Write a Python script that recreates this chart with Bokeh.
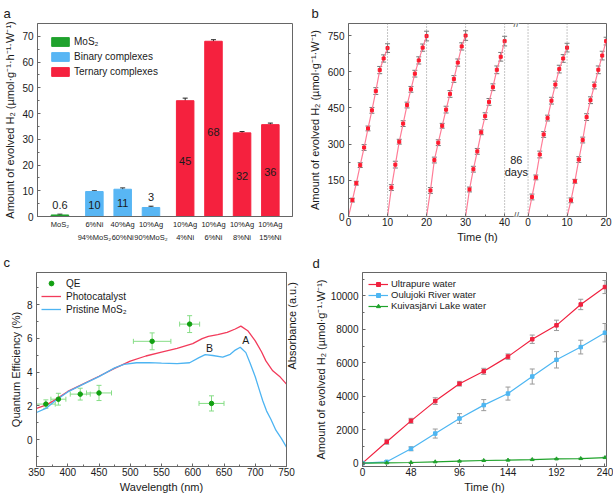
import math
from bokeh.plotting import figure
from bokeh.models import (ColumnDataSource, Whisker, TeeHead, Span, Label,
                          Range1d, FixedTicker, LinearAxis, Legend, LegendItem)
from bokeh.layouts import row, column
from bokeh.embed import file_html
from bokeh.resources import INLINE
from bokeh.core.properties import value

FONT = "Liberation Sans"

# ---------------- panel a data
a_labels = ["MoS₂", "6%Ni\n94%MoS₂", "40%Ag\n60%Ni", "10%Ag\n90%MoS₂",
            "10%Ag\n4%Ni", "10%Ag\n6%Ni", "10%Ag\n8%Ni", "10%Ag\n15%Ni"]
a_groups = ["MoS₂", "Binary complexes", "Binary complexes", "Binary complexes",
            "Ternary complexes", "Ternary complexes", "Ternary complexes", "Ternary complexes"]
a_values = [0.6, 9.7, 10.6, 3.5, 45.0, 68.1, 32.5, 35.7]
a_errors = [0.3, 0.3, 0.5, 0.5, 1.0, 0.6, 0.5, 0.6]
a_texts = ["0.6", "10", "11", "3", "45", "68", "32", "36"]
a_group_names = ["MoS₂", "Binary complexes", "Ternary complexes"]

# ---------------- panel b data (H2 per cycle, hours 1..10)
b_hours = [1, 2, 3, 4, 5, 6, 7, 8, 9, 10]
b_seg1_starts = [0, 10, 20, 30]
b_seg2_starts = [0, 10]
b_cycles = [
    [68, 138, 213, 286, 365, 440, 520, 607, 655, 698],
    [120, 215, 310, 385, 462, 527, 592, 647, 700, 748],
    [108, 234, 306, 376, 443, 508, 570, 638, 705, 750],
    [112, 196, 270, 349, 416, 475, 536, 608, 662, 727],
    [81, 162, 257, 340, 408, 480, 547, 611, 655, 700],
    [67, 146, 236, 317, 412, 482, 543, 608, 667, 727],
]
b_errors = [
    [8, 8, 10, 12, 10, 12, 14, 15, 15, 18],
    [12, 14, 10, 12, 12, 12, 14, 15, 15, 20],
    [12, 12, 12, 10, 14, 14, 14, 15, 15, 20],
    [10, 12, 12, 10, 14, 14, 14, 16, 18, 20],
    [12, 10, 14, 12, 12, 14, 14, 16, 16, 18],
    [10, 8, 12, 12, 14, 14, 14, 16, 18, 16],
]
b_days_text = ["86", "days"]

# ---------------- panel c data
c_wl_photo = [350, 365, 380, 400, 425, 450, 475, 500, 525, 550, 575, 600, 615, 625,
              640, 655, 668, 677, 688, 700, 710, 717, 728, 740, 750]
c_photo = [1.84, 2.04, 2.35, 2.85, 3.3, 3.75, 4.22, 4.65, 4.95, 5.18, 5.4, 5.68, 5.98, 6.12,
           6.22, 6.35, 6.55, 6.72, 6.45, 5.85, 5.2, 4.66, 4.07, 3.7, 3.28]
c_wl_mos2 = [350, 365, 380, 400, 425, 450, 475, 490, 510, 530, 550, 575, 595, 610, 620,
             632, 648, 660, 668, 676, 685, 692, 700, 706, 712, 718, 725, 733, 742, 750]
c_mos2 = [1.6, 1.84, 2.3, 2.82, 3.28, 3.73, 4.25, 4.45, 4.55, 4.56, 4.53, 4.5, 4.55, 4.85, 5.03,
          4.98, 4.88, 5.05, 5.3, 5.47, 5.15, 4.5, 3.72, 3.0, 2.3, 1.7, 1.2, 0.55, 0.05, -0.45]
qe_wl = [365, 385, 420, 450, 535, 595, 630]
qe = [2.1, 2.39, 2.69, 2.76, 5.82, 6.84, 2.14]
qe_wl_err = [15, 12, 16, 20, 30, 16, 20]
qe_err = [0.25, 0.35, 0.35, 0.45, 0.5, 0.5, 0.45]

# ---------------- panel d data
d_time = [0, 24, 48, 72, 96, 120, 144, 168, 192, 216, 240]
d_ultra = [0, 1280, 2530, 3710, 4750, 5490, 6370, 7410, 8240, 9490, 10530]
d_ultra_err = [0, 150, 150, 200, 140, 180, 160, 250, 310, 310, 390]
d_river = [0, 80, 860, 1770, 2670, 3470, 4160, 5180, 6180, 6940, 7800]
d_river_err = [0, 60, 120, 270, 290, 330, 390, 450, 490, 410, 550]
d_lake = [0, 20, 40, 80, 120, 160, 180, 215, 255, 275, 335]
d_lake_err = [0, 15, 15, 15, 20, 20, 20, 25, 25, 25, 30]

AXC = "#666666"
TXT = "#1a1a1a"


def style_axis(ax):
    ax.axis_line_color = AXC
    ax.major_tick_in = 3
    ax.major_tick_out = 0
    ax.minor_tick_in = 2
    ax.minor_tick_out = 0
    ax.major_tick_line_color = AXC
    ax.minor_tick_line_color = AXC
    ax.major_label_text_font = FONT
    ax.major_label_text_font_size = "10px"
    ax.major_label_text_color = TXT
    ax.axis_label_text_font = FONT
    ax.axis_label_text_font_size = "11px"
    ax.axis_label_text_font_style = "normal"
    ax.axis_label_text_color = TXT
    ax.major_label_standoff = 1
    ax.axis_label_standoff = 2


def base_fig(w, h, left, right, top, bottom, xr, yr, title, offset, tstand):
    p = figure(width=w, height=h, x_range=xr, y_range=yr, output_backend="svg",
               toolbar_location=None, title=title,
               min_border_left=left, min_border_right=right,
               min_border_top=top, min_border_bottom=bottom)
    p.xgrid.visible = False
    p.ygrid.visible = False
    p.outline_line_color = AXC
    p.title.text_font = FONT
    p.title.text_font_size = "13px"
    p.title.text_font_style = "normal"
    p.title.text_color = TXT
    p.title.align = "left"
    p.title.offset = offset
    p.title.standoff = tstand
    for ax in p.axis:
        style_axis(ax)
    for ax in p.yaxis:
        ax.major_label_standoff = 4
    return p


def style_legend(lg, margin, glyph_w, glyph_h, label_h, spacing, standoff, fs):
    lg.margin = margin
    lg.padding = 0
    lg.spacing = spacing
    lg.glyph_width = glyph_w
    lg.glyph_height = glyph_h
    lg.label_height = label_h
    lg.label_standoff = standoff
    lg.label_text_font = FONT
    lg.label_text_font_size = fs
    lg.label_text_color = TXT
    lg.border_line_color = None
    lg.background_fill_alpha = 0


# ======================= panel a
a_pos = [0, 123, 224, 325, 447, 548, 650, 751]
BAR_W = 62.5
a_colors = {"MoS₂": "#1fa22d", "Binary complexes": "#58b6f4", "Ternary complexes": "#f5213e"}

pa = base_fig(303, 248, 37, 11, 21, 32, Range1d(-80, 830), Range1d(0, 75), "a", -34, 6)
for g in a_group_names:
    idx = [i for i, gg in enumerate(a_groups) if gg == g]
    src = ColumnDataSource(dict(x=[a_pos[i] for i in idx], top=[a_values[i] for i in idx]))
    pa.vbar(x="x", top="top", width=BAR_W, source=src, fill_color=a_colors[g],
            line_color=a_colors[g], legend_label=g)

err_src = ColumnDataSource(dict(x=a_pos, lower=[v - e for v, e in zip(a_values, a_errors)],
                                upper=[v + e for v, e in zip(a_values, a_errors)]))
pa.add_layout(Whisker(source=err_src, base="x", lower="lower", upper="upper",
                      line_color="#222222", line_width=1,
                      upper_head=TeeHead(size=5, line_color="#222222", line_width=1),
                      lower_head=TeeHead(size=5, line_color="#222222", line_width=1)))
text_y = [v + e + 3.6 if v < 5 else v * 0.48 for v, e in zip(a_values, a_errors)]
pa.text(x=a_pos, y=text_y, text=a_texts, text_align="center", text_baseline="middle",
        text_font=value(FONT), text_font_size="11px", text_color=TXT)

pa.xaxis.ticker = FixedTicker(ticks=a_pos, minor_ticks=[])
pa.xaxis.major_label_overrides = {p_: l_ for p_, l_ in zip(a_pos, a_labels)}
pa.xaxis.major_label_text_font_size = "7.5px"
pa.xaxis.major_label_text_line_height = 1.45
pa.xaxis.major_label_standoff = 3
pa.xaxis.major_tick_line_color = None
pa.yaxis.ticker = FixedTicker(ticks=list(range(0, 71, 10)), minor_ticks=list(range(5, 75, 10)))
pa.yaxis.axis_label = "Amount of evolved H₂ (µmol·g⁻¹·h⁻¹·W⁻¹)"
pa.yaxis.axis_label_standoff = 3
style_legend(pa.legend[0], 12, 22, 11, 13, 2, 3, "10px")
pa.legend[0].location = "top_left"

# ======================= panel b
SEG2 = 46
pb = base_fig(310, 248, 45, 7, 21, 30, Range1d(0, 66.1), Range1d(0, 800), "b", -37, 6)
starts = b_seg1_starts + [s + SEG2 for s in b_seg2_starts]
for s in [10, 20, 30, 40, SEG2, SEG2 + 10]:
    pb.add_layout(Span(location=s, dimension="height", line_color="#8a8a8a",
                       line_dash="1 2", line_width=1))
for s, vals, errs in zip(starts, b_cycles, b_errors):
    xs = [s] + [s + h for h in b_hours]
    pb.line(xs, [0] + vals, line_color="#ff7d97", line_width=1.2)
    src = ColumnDataSource(dict(x=[s + h for h in b_hours], y=vals,
                                lower=[v - e for v, e in zip(vals, errs)],
                                upper=[v + e for v, e in zip(vals, errs)]))
    pb.add_layout(Whisker(source=src, base="x", lower="lower", upper="upper",
                          line_color="#777777", line_width=1,
                          upper_head=TeeHead(size=5, line_color="#777777", line_width=1),
                          lower_head=TeeHead(size=5, line_color="#777777", line_width=1)))
    pb.scatter("x", "y", source=src, marker="square", size=3, color="#ff1a2e")

for yy in [0, 800]:
    pb.add_layout(Label(x=43, y=yy, text="//", text_align="center", text_baseline="middle",
                        text_font=FONT, text_font_size="10px", text_color="#555555",
                        background_fill_color="white"))
pb.add_layout(Label(x=43, y=236, text=b_days_text[0], text_align="center", text_baseline="middle",
                    text_font=FONT, text_font_size="11px", text_color=TXT))
pb.add_layout(Label(x=43, y=185, text=b_days_text[1], text_align="center", text_baseline="middle",
                    text_font=FONT, text_font_size="11px", text_color=TXT))

pb.xaxis.ticker = FixedTicker(ticks=[0, 10, 20, 30, 40, SEG2, SEG2 + 10, SEG2 + 20],
                              minor_ticks=[5, 15, 25, 35, SEG2 + 5, SEG2 + 15])
pb.xaxis.major_label_overrides = {SEG2: "0", SEG2 + 10: "10", SEG2 + 20: "20"}
pb.xaxis.axis_label = "Time (h)"
pb.yaxis.ticker = FixedTicker(ticks=list(range(0, 751, 150)), minor_ticks=list(range(75, 800, 150)))
pb.yaxis.axis_label = "Amount of evolved H₂ (µmol·g⁻¹·W⁻¹)"
pb.yaxis.axis_label_standoff = 4

# ======================= panel c
pc = base_fig(306, 248, 36, 18, 23, 30, Range1d(350, 750), Range1d(-1.6, 9.9), "c", -33, 5)
r_photo = pc.line(c_wl_photo, c_photo, line_color="#f23b5b", line_width=1.3)
r_mos2 = pc.line(c_wl_mos2, c_mos2, line_color="#4db4f2", line_width=1.3)
qsrc = ColumnDataSource(dict(x=qe_wl, y=qe,
                             xl=[a - b for a, b in zip(qe_wl, qe_wl_err)],
                             xu=[a + b for a, b in zip(qe_wl, qe_wl_err)],
                             yl=[a - b for a, b in zip(qe, qe_err)],
                             yu=[a + b for a, b in zip(qe, qe_err)]))
GE = "#86dd86"
pc.add_layout(Whisker(source=qsrc, base="x", lower="yl", upper="yu", line_color=GE,
                      upper_head=TeeHead(size=5, line_color=GE), lower_head=TeeHead(size=5, line_color=GE)))
pc.add_layout(Whisker(source=qsrc, base="y", lower="xl", upper="xu", dimension="width", line_color=GE,
                      upper_head=TeeHead(size=5, line_color=GE), lower_head=TeeHead(size=5, line_color=GE)))
r_qe = pc.scatter("x", "y", source=qsrc, marker="circle", size=4.5, color="#12a012")
for txt, xx, yy in [("B", 627, 5.4), ("A", 685, 5.88)]:
    pc.add_layout(Label(x=xx, y=yy, text=txt, text_align="center", text_baseline="middle",
                        text_font=FONT, text_font_size="10.5px", text_color=TXT))
pc.xaxis.ticker = FixedTicker(ticks=list(range(350, 751, 50)), minor_ticks=list(range(375, 750, 50)))
pc.xaxis.axis_label = "Wavelength (nm)"
pc.yaxis.ticker = FixedTicker(ticks=[0, 2, 4, 6, 8], minor_ticks=[-1, 1, 3, 5, 7, 9])
pc.yaxis.axis_label = "Quantum Efficiency (%)"
pc.yaxis.axis_label_standoff = 2
rax = LinearAxis(ticker=FixedTicker(ticks=[]), axis_label="Absorbance (a.u.)")
style_axis(rax)
rax.axis_label_standoff = 5
rax.axis_label_orientation = math.pi / 2
pc.add_layout(rax, "right")
lc = Legend(items=[LegendItem(label="QE", renderers=[r_qe]),
                   LegendItem(label="Photocatalyst", renderers=[r_photo]),
                   LegendItem(label="Pristine MoS₂", renderers=[r_mos2])], location="top_left")
style_legend(lc, 5, 20, 12, 12, 1, 5, "10px")
lc.padding = 1
pc.add_layout(lc)

# ======================= panel d
pd = base_fig(307, 248, 56, 7, 24, 27, Range1d(0, 241.5), Range1d(-200, 11400), "d", -50, 4)
items = []
for name, ys, es, col, mk in [("Ultrapure water", d_ultra, d_ultra_err, "#f0213f", "square"),
                              ("Oulujoki River water", d_river, d_river_err, "#4db6f2", "square"),
                              ("Kuivasjärvi Lake water", d_lake, d_lake_err, "#1fa32b", "triangle")]:
    src = ColumnDataSource(dict(x=d_time, y=ys, lower=[a - b for a, b in zip(ys, es)],
                                upper=[a + b for a, b in zip(ys, es)]))
    pd.add_layout(Whisker(source=src, base="x", lower="lower", upper="upper",
                          line_color="#9a9a9a", line_width=1,
                          upper_head=TeeHead(size=5, line_color="#9a9a9a"),
                          lower_head=TeeHead(size=5, line_color="#9a9a9a")))
    rl = pd.line("x", "y", source=src, line_color=col, line_width=1.2)
    rs = pd.scatter("x", "y", source=src, marker=mk, size=3.5, color=col)
    items.append(LegendItem(label=name, renderers=[rl, rs]))
pd.xaxis.ticker = FixedTicker(ticks=list(range(0, 241, 48)), minor_ticks=list(range(24, 241, 48)))
pd.xaxis.axis_label = "Time (h)"
pd.yaxis.ticker = FixedTicker(ticks=list(range(0, 10001, 2000)), minor_ticks=list(range(1000, 11001, 2000)))
pd.yaxis.axis_label = "Amount of evolved H₂ (µmol·g⁻¹·W⁻¹)"
pd.yaxis.axis_label_standoff = 1
ld = Legend(items=items, location="top_left")
style_legend(ld, 6, 20, 10, 11, 0, 3, "9.5px")
ld.padding = 1
pd.add_layout(ld)

layout = column(row(pa, pb), row(pc, pd))
open("out.html", "w").write(file_html(layout, INLINE))
